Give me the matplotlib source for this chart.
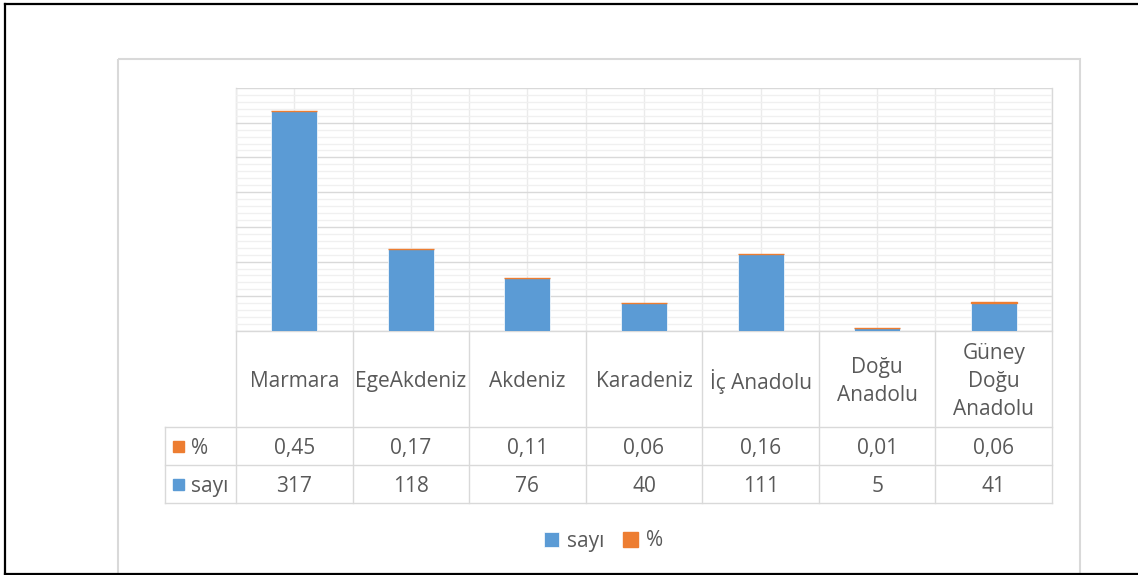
import numpy as np
import matplotlib
matplotlib.use("Agg")
import matplotlib.pyplot as plt
from matplotlib import transforms
from matplotlib.patches import Rectangle
from matplotlib.lines import Line2D

# ---------------- data ----------------
categories = ["Marmara", "EgeAkdeniz", "Akdeniz", "Karadeniz", "İç Anadolu",
              "Doğu\nAnadolu", "Güney\nDoğu\nAnadolu"]
sayi = [317, 118, 76, 40, 111, 5, 41]
pct = [0.45, 0.17, 0.11, 0.06, 0.16, 0.01, 0.06]
pct_labels = ["0,45", "0,17", "0,11", "0,06", "0,16", "0,01", "0,06"]
series_names = ["sayı", "%"]

BLUE = "#5B9BD5"
ORANGE = "#ED7D31"
TXT = "#595959"
GRID_MAJOR = "#D9D9D9"
GRID_MINOR = "#F0F0F0"

plt.rcParams["font.family"] = ["Open Sans", "DejaVu Sans"]

W, H = 1138, 575
fig = plt.figure(figsize=(W / 100, H / 100), dpi=100)

def fx(x):
    return x / W

def fy(y):
    return 1 - y / H

# overlay axes in pixel coordinates (y downward)
ov = fig.add_axes([0, 0, 1, 1], zorder=0)
ov.set_xlim(0, W)
ov.set_ylim(H, 0)
ov.axis("off")

# plot area
PL, PR, PT, PB = 236, 1052, 88, 331
ax = fig.add_axes([fx(PL), fy(PB), fx(PR) - fx(PL), fy(PT) - fy(PB)], zorder=2)
ax.patch.set_alpha(0)
x = np.arange(len(categories))
ax.set_xlim(-0.5, len(categories) - 0.5)
ax.set_ylim(0, 350)

ax.set_yticks(np.arange(0, 351, 50))
ax.set_yticks(np.arange(0, 351, 10), minor=True)
ax.set_xticks(np.arange(-0.5, len(categories), 1))
ax.set_xticks(x, minor=True)
ax.grid(which="minor", axis="y", color=GRID_MINOR, lw=1.0, zorder=0)
ax.grid(which="major", axis="y", color=GRID_MAJOR, lw=1.0, zorder=0)
ax.grid(which="both", axis="x", color="#EBEBEB", lw=1.0, zorder=0)
ax.set_axisbelow(True)
ax.tick_params(which="both", length=0, labelleft=False, labelbottom=False)
for s in ["top", "right", "left"]:
    ax.spines[s].set_visible(False)
ax.spines["bottom"].set_color(GRID_MAJOR)
ax.spines["bottom"].set_linewidth(1.0)

bw = 0.395
b1 = ax.bar(x, sayi, width=bw, color=BLUE, edgecolor="white", linewidth=0.5,
            zorder=3, label=series_names[0])
b2 = ax.bar(x, pct, bottom=sayi, width=bw, color=ORANGE, edgecolor=ORANGE,
            linewidth=1.0, zorder=3, label=series_names[1])

# ---------------- frames ----------------
# outer black frame (top, left, bottom)
ov.add_line(Line2D([5, W], [4, 4], color="black", lw=1.6, clip_on=False))
ov.add_line(Line2D([5, 5], [4, 574], color="black", lw=1.6, clip_on=False))
ov.add_line(Line2D([5, W], [574, 574], color="black", lw=1.6, clip_on=False))
# chart area border
ov.add_patch(Rectangle((118, 59), 1080 - 118, 600 - 59, fill=False,
                       edgecolor="#D9D9D9", lw=1.5, clip_on=False))

# ---------------- data table ----------------
tr = transforms.blended_transform_factory(ax.transData, ov.transData)
TBL_LEFT = 165
HDR_TOP, HDR_BOT = PB, 427
ROW1_BOT, ROW2_BOT = 465, 503
LC = "#D9D9D9"
DY = 2.5  # vertical text offset (pixels)

# vertical lines: plot-area left edge and column boundaries
for xb in np.arange(-0.5, len(categories), 1):
    top = PT if xb in (-0.5, len(categories) - 0.5) else PB
    ov.add_line(Line2D([xb, xb], [top, ROW2_BOT], color=LC, lw=1.0,
                       transform=tr, clip_on=False))
# horizontal lines
for yy in (HDR_BOT, ROW1_BOT, ROW2_BOT):
    ov.add_line(Line2D([TBL_LEFT, PR], [yy, yy], color=LC, lw=1.0, clip_on=False))
ov.add_line(Line2D([TBL_LEFT, TBL_LEFT], [HDR_BOT, ROW2_BOT], color=LC, lw=1.0,
                   clip_on=False))

FS = 15
for xi, cat in zip(x, categories):
    ov.text(xi, (HDR_TOP + HDR_BOT) / 2 + DY, cat, transform=tr, ha="center",
            va="center", fontsize=FS, color=TXT, linespacing=1.45)
for xi, lab in zip(x, pct_labels):
    ov.text(xi, (HDR_BOT + ROW1_BOT) / 2 + DY, lab, transform=tr, ha="center",
            va="center", fontsize=FS, color=TXT)
for xi, v in zip(x, sayi):
    ov.text(xi, (ROW1_BOT + ROW2_BOT) / 2 + DY, str(v), transform=tr, ha="center",
            va="center", fontsize=FS, color=TXT)

# row headers with legend keys
for (y0, y1), name, col in [((HDR_BOT, ROW1_BOT), series_names[1], ORANGE),
                            ((ROW1_BOT, ROW2_BOT), series_names[0], BLUE)]:
    yc = (y0 + y1) / 2
    ov.add_patch(Rectangle((173, yc - 5), 11, 11, color=col, clip_on=False))
    ov.text(191, yc + DY, name, ha="left", va="center", fontsize=FS, color=TXT)

# ---------------- legend ----------------
leg = fig.legend(handles=[b1, b2], labels=series_names, loc="center",
                 bbox_to_anchor=(fx(604), fy(541)), ncol=2, frameon=False,
                 handlelength=0.7, handleheight=0.7, handletextpad=0.4,
                 columnspacing=0.9, fontsize=FS)
for t in leg.get_texts():
    t.set_color(TXT)

fig.savefig("out.png", dpi=100)
